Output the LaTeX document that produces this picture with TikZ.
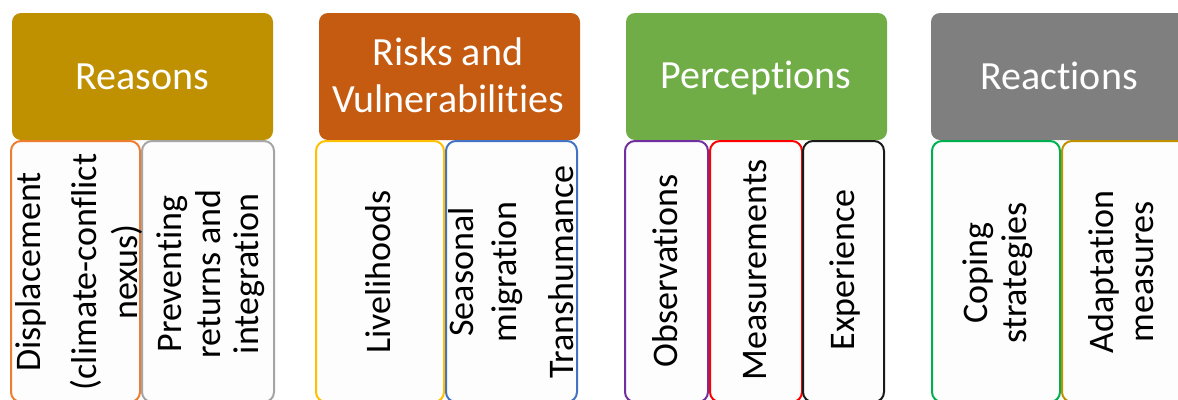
\documentclass[tikz,border=0pt]{standalone}
\usepackage{fontspec}
\setmainfont{Carlito}[Ligatures={NoCommon}]
\definecolor{cReasons}{HTML}{BF9000}
\definecolor{cRisks}{HTML}{C55A11}
\definecolor{cPercep}{HTML}{70AD47}
\definecolor{cReact}{HTML}{7F7F7F}
\definecolor{cOrange}{HTML}{ED7D31}
\definecolor{cGray}{HTML}{A5A5A5}
\definecolor{cYellow}{HTML}{FFC000}
\definecolor{cBlue}{HTML}{4472C4}
\definecolor{cPurple}{HTML}{7030A0}
\definecolor{cRed}{HTML}{FF0000}
\definecolor{cBlack}{HTML}{1A1A1A}
\definecolor{cGreen}{HTML}{00B050}
\definecolor{cGold}{HTML}{BF9000}
\definecolor{cSubFill}{HTML}{FDFDFD}
\begin{document}
\begin{tikzpicture}[x=1pt,y=-1pt,
  hdrbox/.style={rectangle, rounded corners=9pt, inner sep=0pt, outer sep=0pt,
    minimum width=261pt, minimum height=127pt},
  hdrtxt/.style={text=white, font=\fontsize{40}{48}\selectfont, anchor=base, inner sep=0pt},
  subbox/.style={rectangle, rounded corners=10pt, inner sep=0pt, outer sep=0pt,
    fill=cSubFill, line width=2pt, minimum height=261pt},
  subtxt/.style={text=black, font=\fontsize{36}{43}\selectfont, rotate=90, anchor=base, inner sep=0pt}
]
\useasboundingbox (0,0) rectangle (1178,399);
\clip (0,0) rectangle (1178,399);
\fill[white] (0,0) rectangle (1178,399);

% header boxes
\node[hdrbox, fill=cReasons] (reasons) at (142.5,76.5) {};
\node[hdrbox, fill=cRisks] (risks) at (449.5,76.5) {};
\node[hdrbox, fill=cPercep] (percep) at (756.5,76.5) {};
\node[hdrbox, fill=cReact] (react) at (1061.5,76.5) {};

% header texts
\node[hdrtxt] (reasonsT) at (142.5,89) {Reasons};
\node[hdrtxt] (risksT1) at (448,65) {Risks and};
\node[hdrtxt] (risksT2) at (448,112) {Vulnerabilities};
\node[hdrtxt] (percepT) at (756,88) {Perceptions};
\node[hdrtxt] (reactT) at (1059,89) {Reactions};

% sub boxes
\node[subbox, draw=cOrange, minimum width=129pt] (displ) at (75.5,271.5) {};
\node[subbox, draw=cGray, minimum width=132pt] (prev) at (208,271.5) {};
\node[subbox, draw=cYellow, minimum width=128pt] (liveli) at (380,271.5) {};
\node[subbox, draw=cBlue, minimum width=131pt] (seas) at (511.5,271.5) {};
\node[subbox, draw=cPurple, minimum width=83pt] (obs) at (666.5,271.5) {};
\node[subbox, draw=cRed, minimum width=92pt] (meas) at (756,271.5) {};
\node[subbox, draw=cBlack, minimum width=81pt] (exper) at (843.5,271.5) {};
\node[subbox, draw=cGreen, minimum width=128pt] (coping) at (996,271.5) {};
\node[subbox, draw=cGold, minimum width=133pt] (adapt) at (1128.5,271.5) {};

% sub texts (rotated)
\node[subtxt] (displT1) at (40,272) {Displacement};
\node[subtxt] (displT2) at (96,272) {(climate-conflict};
\node[subtxt] (displT3) at (137,272) {nexus)};
\node[subtxt] (prevT1) at (181,274) {Preventing};
\node[subtxt] (prevT2) at (220,274) {returns and};
\node[subtxt] (prevT3) at (258,274) {integration};
\node[subtxt] (liveliT) at (390,272) {Livelihoods};
\node[subtxt] (seasT1) at (473,272) {Seasonal};
\node[subtxt] (seasT2) at (516,272) {migration};
\node[subtxt] (seasT3) at (573,272) {Transhumance};
\node[subtxt] (obsT) at (677,271) {Observations};
\node[subtxt] (measT) at (766,270) {Measurements};
\node[subtxt] (experT) at (854,270) {Experience};
\node[subtxt] (copingT1) at (987,273) {Coping};
\node[subtxt] (copingT2) at (1026,273) {strategies};
\node[subtxt] (adaptT1) at (1113,272) {Adaptation};
\node[subtxt] (adaptT2) at (1153,272) {measures};
\end{tikzpicture}
\end{document}
